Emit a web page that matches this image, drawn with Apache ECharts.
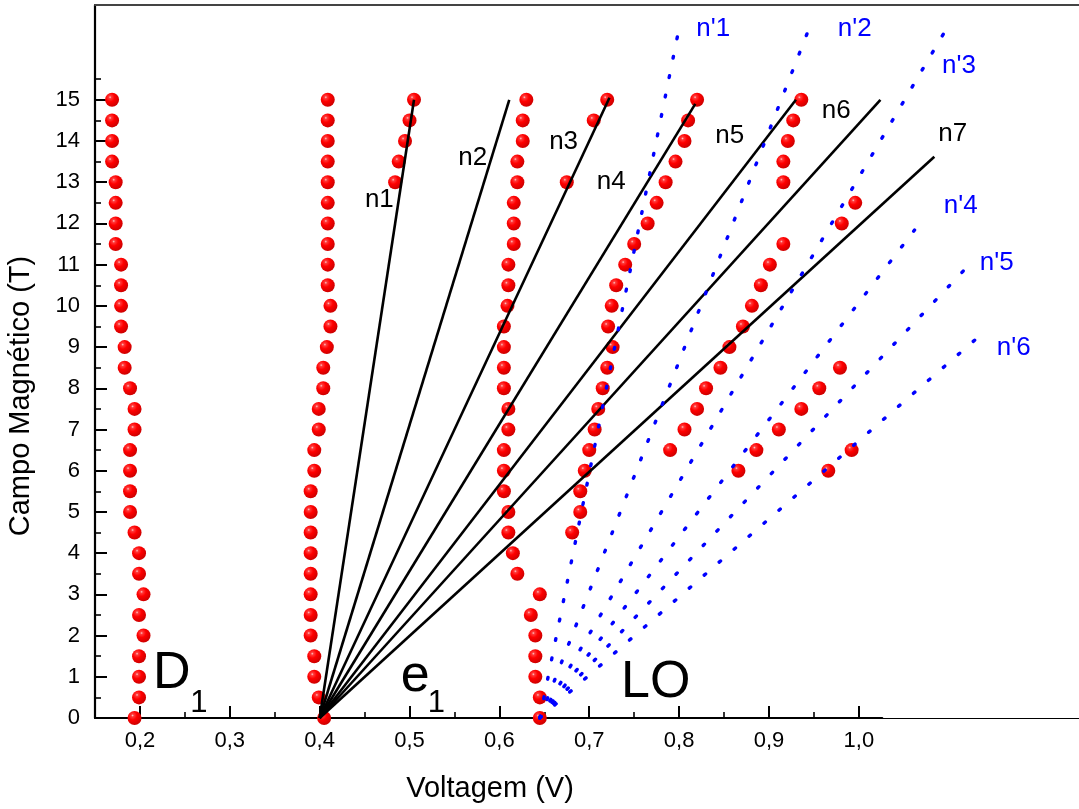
<!DOCTYPE html>
<html>
<head>
<meta charset="utf-8">
<script src="https://cdn.jsdelivr.net/npm/echarts@6/dist/echarts.min.js"></script>
<style>
  html, body { margin: 0; padding: 0; background: #fff; }
  #chart { width: 1079px; height: 809px; }
</style>
</head>
<body>
<div id="chart"></div>
<script>
// ---------------- data ----------------
const xMin = 0.15, xAxisEnd = 1.026, xMax = 1.245;
const yMin = 0, yMax = 17.3;
const xMajorTicks = [0.2, 0.3, 0.4, 0.5, 0.6, 0.7, 0.8, 0.9, 1.0];
const xMinorTicks = [0.25, 0.35, 0.45, 0.55, 0.65, 0.75, 0.85, 0.95];
const yMajorTicks = [0, 1, 2, 3, 4, 5, 6, 7, 8, 9, 10, 11, 12, 13, 14, 15];
const yMinorTicks = [0.5, 1.5, 2.5, 3.5, 4.5, 5.5, 6.5, 7.5, 8.5, 9.5, 10.5, 11.5, 12.5, 13.5, 14.5, 15.5];

// magnetic field values (T)
const bFull = [0, 0.5, 1, 1.5, 2, 2.5, 3, 3.5, 4, 4.5, 5, 5.5, 6, 6.5, 7, 7.5, 8, 8.5, 9, 9.5, 10, 10.5, 11, 11.5, 12, 12.5, 13, 13.5, 14, 14.5, 15];
// D1 peak positions (V)
const d1X = [0.194, 0.199, 0.199, 0.199, 0.204, 0.199, 0.204, 0.199, 0.199, 0.194, 0.189, 0.189, 0.189, 0.189, 0.194, 0.194, 0.189, 0.183, 0.183, 0.179, 0.179, 0.179, 0.179, 0.173, 0.173, 0.173, 0.173, 0.169, 0.169, 0.169, 0.169];
// e1 peak positions (V)
const e1X = [0.405, 0.399, 0.394, 0.394, 0.390, 0.390, 0.390, 0.390, 0.390, 0.390, 0.390, 0.390, 0.394, 0.394, 0.399, 0.399, 0.404, 0.404, 0.408, 0.412, 0.412, 0.409, 0.409, 0.409, 0.409, 0.409, 0.409, 0.409, 0.409, 0.409, 0.409];
// peak group near n1
const g3B = [13, 13.5, 14, 14.5, 15];
const g3X = [0.484, 0.488, 0.495, 0.500, 0.505];
// peak group near 0.61 V
const g4B = [3.5, 4, 4.5, 5, 5.5, 6, 6.5, 7, 7.5, 8, 8.5, 9, 9.5, 10, 10.5, 11, 11.5, 12, 12.5, 13, 13.5, 14, 14.5, 15];
const g4X = [0.620, 0.615, 0.610, 0.610, 0.605, 0.605, 0.605, 0.610, 0.610, 0.605, 0.605, 0.605, 0.605, 0.609, 0.610, 0.610, 0.616, 0.616, 0.616, 0.620, 0.620, 0.626, 0.626, 0.630];
// LO peaks
const loB = [0, 0.5, 1, 1.5, 2, 2.5, 3];
const loX = [0.645, 0.645, 0.640, 0.640, 0.640, 0.635, 0.645];
// group near n3
const g5B = [13, 14.5, 15];
const g5X = [0.675, 0.705, 0.720];
// group near 0.70 - 0.82 V
const g6B = [4.5, 5, 5.5, 6, 6.5, 7, 7.5, 8, 8.5, 9, 9.5, 10, 10.5, 11, 11.5, 12, 12.5, 13, 13.5, 14, 14.5, 15];
const g6X = [0.681, 0.690, 0.690, 0.695, 0.700, 0.706, 0.710, 0.715, 0.720, 0.726, 0.721, 0.725, 0.730, 0.740, 0.750, 0.765, 0.775, 0.785, 0.796, 0.806, 0.810, 0.820];
// group near 0.79 - 0.94 V
const g7B = [6.5, 7, 7.5, 8, 8.5, 9, 9.5, 10, 10.5, 11, 11.5, 13, 13.5, 14, 14.5, 15];
const g7X = [0.790, 0.806, 0.820, 0.830, 0.846, 0.856, 0.871, 0.881, 0.891, 0.901, 0.916, 0.916, 0.916, 0.921, 0.927, 0.936];
// group near 0.87 - 1.0 V
const g9B = [6, 6.5, 7, 7.5, 8, 8.5, 12, 12.5];
const g9X = [0.866, 0.886, 0.911, 0.936, 0.956, 0.979, 0.981, 0.996];
// rightmost pair
const g10B = [6, 6.5];
const g10X = [0.966, 0.992];

// n lines (from e1 at B=0)
const nNames = ['n1', 'n2', 'n3', 'n4', 'n5', 'n6', 'n7'];
const nStart = [0.4, 0];
const nEndX = [0.505, 0.611, 0.7225, 0.818, 0.930, 1.024, 1.084];
const nEndB = [15, 15, 15.05, 14.9, 15.0, 15.0, 13.62];
const nLabelX = [0.467, 0.571, 0.672, 0.725, 0.857, 0.9755, 1.105];
const nLabelB = [12.57, 13.57, 13.97, 13.0, 14.11, 14.72, 14.15];

// n' lines (from LO at B=0)
const npNames = ["n'1", "n'2", "n'3", "n'4", "n'5", "n'6"];
const npStart = [0.645, 0];
const npEndX = [0.799, 0.943, 1.095, 1.062, 1.119, 1.129];
const npEndB = [16.63, 16.64, 16.63, 11.84, 10.91, 9.17];
const npLabelX = [0.8385, 0.996, 1.112, 1.114, 1.154, 1.173];
const npLabelB = [16.72, 16.72, 15.8, 12.41, 11.04, 8.97];

// region labels
const regionText = ['D', 'e', 'LO'];
const regionX = [0.2361, 0.507, 0.7746];
const regionB = [1.068, 0.995, 0.85];
const subText = ['1', '1'];
const subX = [0.2662, 0.5304];
const subB = [0.34, 0.34];

const xTitle = 'Voltagem (V)';
const yTitle = 'Campo Magnético (T)';

// ---------------- chart ----------------
const FONT = '"Liberation Sans", Arial, Helvetica, sans-serif';
const chart = echarts.init(document.getElementById('chart'), null, { renderer: 'canvas' });

const zip = (xs, bs) => xs.map((x, i) => [x, bs[i]]);
const ball = {
  type: 'radial', x: 0.36, y: 0.32, r: 0.7,
  colorStops: [
    { offset: 0, color: '#ffc8c8' },
    { offset: 0.14, color: '#ff3a3a' },
    { offset: 0.45, color: '#ff0000' },
    { offset: 1, color: '#cc0000' }
  ]
};
const redGroups = [
  zip(d1X, bFull), zip(e1X, bFull), zip(g3X, g3B), zip(g4X, g4B), zip(loX, loB),
  zip(g5X, g5B), zip(g6X, g6B), zip(g7X, g7B), zip(g9X, g9B), zip(g10X, g10B)
];

const series = [];
redGroups.forEach(pts => {
  series.push({
    type: 'scatter', data: pts, symbol: 'circle', symbolSize: 14,
    itemStyle: { color: ball, opacity: 1 }, z: 3, silent: true
  });
});
nEndX.forEach((ex, i) => {
  series.push({
    type: 'line', data: [nStart, [ex, nEndB[i]]], showSymbol: false, symbol: 'none',
    lineStyle: { color: '#000', width: 2.6 }, z: 4, silent: true
  });
});
npEndX.forEach((ex, i) => {
  series.push({
    type: 'line', data: [npStart, [ex, npEndB[i]]], showSymbol: false, symbol: 'none',
    lineStyle: { color: '#0000ff', width: 3.4, type: [1.8, 18], cap: 'round' }, z: 4, silent: true
  });
});
const textSeries = (xs, bs, names, color, size) => ({
  type: 'scatter', symbolSize: 1, itemStyle: { color: 'rgba(255,255,255,0)' }, z: 6, silent: true,
  data: xs.map((x, i) => ({ value: [x, bs[i]], name: names[i] })),
  label: {
    show: true, position: [0, 0], formatter: '{b}', color: color, opacity: 1,
    textBorderWidth: 0, fontSize: size, fontFamily: FONT, align: 'center', verticalAlign: 'middle'
  }
});
series.push(textSeries(nLabelX, nLabelB, nNames, '#000000', 26));
series.push(textSeries(npLabelX, npLabelB, npNames, '#0000ff', 26));
series.push(textSeries(regionX, regionB, regionText, '#000000', 52));
series.push(textSeries(subX, subB, subText, '#000000', 31));

const fmt = v => (Math.round(v * 10) / 10).toFixed(1).replace('.', ',');
const k = 984 / (xMax - xMin);
const grid1Width = (xAxisEnd - xMin) * k;

const option = {
  animation: false,
  backgroundColor: '#fff',
  grid: [
    { left: 95, right: 0, top: 5, bottom: 91, containLabel: false },
    { left: 95, width: grid1Width, top: 5, bottom: 91, containLabel: false }
  ],
  xAxis: [
    { type: 'value', gridIndex: 0, position: 'bottom', min: xMin, max: xMax,
      axisLine: { show: true, onZero: false, lineStyle: { color: '#000', width: 1 } },
      axisTick: { show: false }, axisLabel: { show: false }, splitLine: { show: false } },
    { type: 'value', gridIndex: 0, position: 'top', min: xMin, max: xMax,
      axisLine: { show: true, onZero: false, lineStyle: { color: '#444', width: 2 } },
      axisTick: { show: false }, axisLabel: { show: false }, splitLine: { show: false } },
    { type: 'value', gridIndex: 1, position: 'bottom', min: xMin, max: xAxisEnd,
      axisLine: { show: true, onZero: false, lineStyle: { color: '#000', width: 2.2 } },
      axisTick: { show: true, inside: true, length: 12, customValues: xMajorTicks, lineStyle: { color: '#000', width: 2 } },
      axisLabel: { show: true, customValues: xMajorTicks, formatter: fmt, color: '#000', fontSize: 22, fontFamily: FONT, margin: 12 },
      splitLine: { show: false } },
    { type: 'value', gridIndex: 1, position: 'bottom', min: xMin, max: xAxisEnd,
      axisLine: { show: false },
      axisTick: { show: true, inside: true, length: 6, customValues: xMinorTicks, lineStyle: { color: '#000', width: 1.6 } },
      axisLabel: { show: false }, splitLine: { show: false } }
  ],
  yAxis: [
    { type: 'value', gridIndex: 0, position: 'left', min: yMin, max: yMax,
      axisLine: { show: true, onZero: false, lineStyle: { color: '#000', width: 2.2 } },
      axisTick: { show: true, inside: true, length: 12, customValues: yMajorTicks, lineStyle: { color: '#000', width: 2 } },
      axisLabel: { show: true, customValues: yMajorTicks, color: '#000', fontSize: 22, fontFamily: FONT, margin: 15 },
      splitLine: { show: false } },
    { type: 'value', gridIndex: 0, position: 'left', min: yMin, max: yMax,
      axisLine: { show: false },
      axisTick: { show: true, inside: true, length: 6, customValues: yMinorTicks, lineStyle: { color: '#000', width: 1.6 } },
      axisLabel: { show: false }, splitLine: { show: false } },
    { type: 'value', gridIndex: 1, min: yMin, max: yMax, show: false }
  ],
  graphic: [
    { type: 'text', x: 490, y: 789, silent: true,
      style: { text: xTitle, font: '29px ' + FONT, fill: '#000', textAlign: 'center', textVerticalAlign: 'middle' } },
    { type: 'text', x: 21, y: 396, rotation: Math.PI / 2, silent: true,
      style: { text: yTitle, font: '29px ' + FONT, fill: '#000', textAlign: 'center', textVerticalAlign: 'middle' } }
  ],
  series: series.map(s => Object.assign({ xAxisIndex: 0, yAxisIndex: 0 }, s))
};
chart.setOption(option);
</script>
</body>
</html>
